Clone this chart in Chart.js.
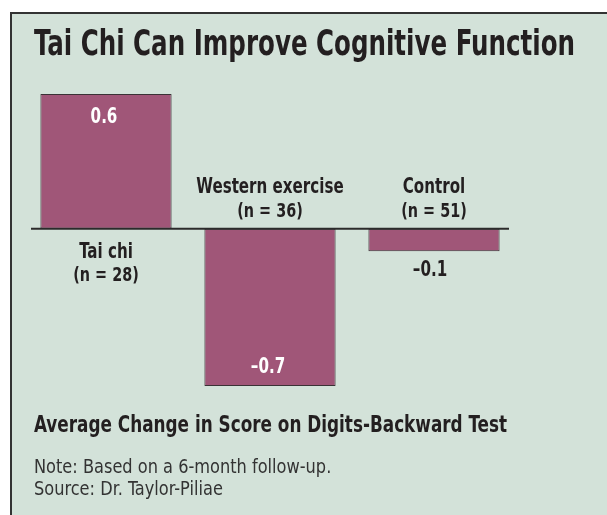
<!DOCTYPE html>
<html>
<head>
<meta charset="utf-8">
<script src="https://cdn.jsdelivr.net/npm/chart.js@4/dist/chart.umd.min.js"></script>
<style>
  html, body { margin: 0; padding: 0; background: #ffffff; }
  #wrap { position: relative; width: 607px; height: 515px; }
</style>
</head>
<body>
<div id="wrap"><canvas id="c" width="607" height="515"></canvas></div>
<script>
// ---- data ----
const categories = ["Tai chi", "Western exercise", "Control"];
const sampleSizes = ["(n = 28)", "(n = 36)", "(n = 51)"];
const values = [0.6, -0.7, -0.1];
const valueLabels = ["0.6", "\u20130.7", "\u20130.1"];
const titleText = "Tai Chi Can Improve Cognitive Function";
const axisTitleText = "Average Change in Score on Digits-Backward Test";
const noteLines = ["Note: Based on a 6-month follow-up.", "Source: Dr. Taylor-Piliae"];

// ---- styles ----
const BG = "#d3e2d9";
const BAR = "#a05678";
const INK = "#231f20";
const NARROW = "'Liberation Sans Narrow', 'DejaVu Sans Condensed', sans-serif";

// draw text; sx = horizontal squeeze, or fitW = target width in px
function drawText(ctx, text, x, y, font, color, align, sx, fitW) {
  ctx.save();
  ctx.font = font;
  ctx.fillStyle = color;
  ctx.textBaseline = "alphabetic";
  ctx.textAlign = align || "left";
  let s = sx || 1;
  if (fitW) s = fitW / ctx.measureText(text).width;
  ctx.translate(x, y);
  ctx.scale(s, 1);
  ctx.fillText(text, 0, 0);
  ctx.restore();
}

const panelPlugin = {
  id: "panel",
  beforeDraw(chart) {
    const ctx = chart.ctx;
    ctx.save();
    ctx.fillStyle = "#ffffff";
    ctx.fillRect(0, 0, chart.width, chart.height);
    ctx.fillStyle = BG;
    ctx.fillRect(10, 12, chart.width, chart.height);
    ctx.strokeStyle = "#333333";
    ctx.lineWidth = 2;
    ctx.beginPath();
    ctx.moveTo(11, chart.height + 2);
    ctx.lineTo(11, 13);
    ctx.lineTo(chart.width + 2, 13);
    ctx.stroke();
    ctx.restore();
  },
  afterDatasetsDraw(chart) {
    const ctx = chart.ctx;
    const xs = chart.scales.x, ys = chart.scales.y;
    const y0 = ys.getPixelForValue(0);
    // zero line
    ctx.save();
    ctx.strokeStyle = "#2b2b2b";
    ctx.lineWidth = 2;
    ctx.beginPath();
    ctx.moveTo(chart.chartArea.left + 7, y0);
    ctx.lineTo(chart.chartArea.right - 7, y0);
    ctx.stroke();
    ctx.restore();

    const bold = "bold 21px " + NARROW;
    const boldSm = "bold 20px " + NARROW;
    const SQ = 0.8;
    values.forEach((v, i) => {
      const cx = xs.getPixelForValue(i);
      const yv = ys.getPixelForValue(v);
      // category labels on the opposite side of the bar
      if (v >= 0) {
        drawText(ctx, categories[i], cx, y0 + 29, bold, INK, "center", SQ);
        drawText(ctx, sampleSizes[i], cx, y0 + 52, boldSm, INK, "center", SQ);
      } else {
        drawText(ctx, categories[i], cx, y0 - 36, bold, INK, "center", SQ);
        drawText(ctx, sampleSizes[i], cx, y0 - 12, boldSm, INK, "center", SQ);
      }
      // value labels
      const len = Math.abs(yv - y0);
      if (len > 50) {
        const ty = v >= 0 ? yv + 29 : yv - 13;
        drawText(ctx, valueLabels[i], cx - 2, ty, bold, "#ffffff", "center", SQ);
      } else {
        const ty = v >= 0 ? yv - 10 : yv + 25;
        drawText(ctx, valueLabels[i], cx - 4, ty, bold, INK, "center", SQ);
      }
    });

    drawText(ctx, titleText, 34, 55, "bold 35px " + NARROW, INK, "left", null, 541);
    drawText(ctx, axisTitleText, 34, 432, "bold 23px " + NARROW, INK, "left", null, 473);
    noteLines.forEach((t, k) => {
      drawText(ctx, t, 34, 473 + k * 22, "20px " + NARROW, "#333333", "left", 0.9);
    });
  }
};

new Chart(document.getElementById("c"), {
  type: "bar",
  data: {
    labels: categories,
    datasets: [{
      data: values,
      backgroundColor: BAR,
      borderColor: "#3a3236",
      borderWidth: 1,
      borderSkipped: false,
      barPercentage: 0.8,
      categoryPercentage: 1.0
    }]
  },
  options: {
    responsive: false,
    animation: false,
    devicePixelRatio: 1,
    layout: { padding: { left: 24, right: 91, top: 94, bottom: 129 } },
    plugins: { legend: { display: false }, tooltip: { enabled: false }, title: { display: false } },
    scales: {
      x: { display: false },
      y: { display: false, min: -0.7, max: 0.6 }
    }
  },
  plugins: [panelPlugin]
});
</script>
</body>
</html>
